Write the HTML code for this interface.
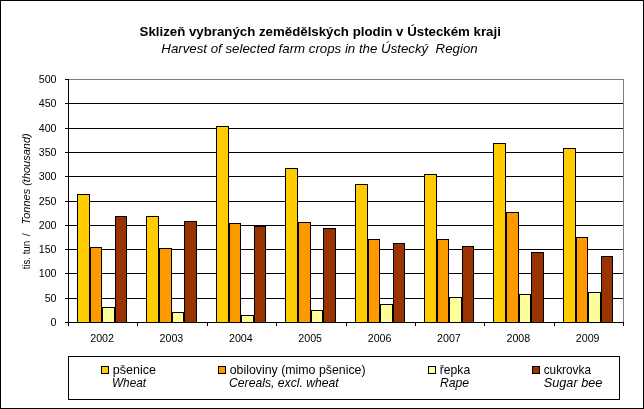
<!DOCTYPE html>
<html lang="cs"><head><meta charset="utf-8"><title>Sklizeň vybraných zemědělských plodin v Ústeckém kraji</title>
<style>html,body{margin:0;padding:0;background:#fff;}svg{display:block;}text{font-family:"Liberation Sans",sans-serif;fill:#000;}</style>
</head><body>
<svg width="644" height="409" viewBox="0 0 644 409">
<rect x="0" y="0" width="644" height="409" fill="#fff"/>
<g shape-rendering="crispEdges">
<rect x="0.5" y="0.5" width="643" height="408" fill="none" stroke="#000" stroke-width="1"/>
<rect x="68.5" y="79.5" width="555" height="243" fill="#fff" stroke="#808080" stroke-width="1"/>
<line x1="68" y1="298.5" x2="623" y2="298.5" stroke="#000" stroke-width="1"/>
<line x1="68" y1="273.5" x2="623" y2="273.5" stroke="#000" stroke-width="1"/>
<line x1="68" y1="249.5" x2="623" y2="249.5" stroke="#000" stroke-width="1"/>
<line x1="68" y1="225.5" x2="623" y2="225.5" stroke="#000" stroke-width="1"/>
<line x1="68" y1="201.5" x2="623" y2="201.5" stroke="#000" stroke-width="1"/>
<line x1="68" y1="176.5" x2="623" y2="176.5" stroke="#000" stroke-width="1"/>
<line x1="68" y1="152.5" x2="623" y2="152.5" stroke="#000" stroke-width="1"/>
<line x1="68" y1="128.5" x2="623" y2="128.5" stroke="#000" stroke-width="1"/>
<line x1="68" y1="103.5" x2="623" y2="103.5" stroke="#000" stroke-width="1"/>
<rect x="77.5" y="194.5" width="12" height="128" fill="#FFCC00" stroke="#000" stroke-width="1"/>
<rect x="90.5" y="247.5" width="11" height="75" fill="#FF9900" stroke="#000" stroke-width="1"/>
<rect x="102.5" y="307.5" width="12" height="15" fill="#FFFF99" stroke="#000" stroke-width="1"/>
<rect x="115.5" y="216.5" width="11" height="106" fill="#993300" stroke="#000" stroke-width="1"/>
<rect x="146.5" y="216.5" width="12" height="106" fill="#FFCC00" stroke="#000" stroke-width="1"/>
<rect x="159.5" y="248.5" width="12" height="74" fill="#FF9900" stroke="#000" stroke-width="1"/>
<rect x="172.5" y="312.5" width="11" height="10" fill="#FFFF99" stroke="#000" stroke-width="1"/>
<rect x="184.5" y="221.5" width="12" height="101" fill="#993300" stroke="#000" stroke-width="1"/>
<rect x="216.5" y="126.5" width="12" height="196" fill="#FFCC00" stroke="#000" stroke-width="1"/>
<rect x="229.5" y="223.5" width="11" height="99" fill="#FF9900" stroke="#000" stroke-width="1"/>
<rect x="241.5" y="315.5" width="12" height="7" fill="#FFFF99" stroke="#000" stroke-width="1"/>
<rect x="254.5" y="226.5" width="11" height="96" fill="#993300" stroke="#000" stroke-width="1"/>
<rect x="285.5" y="168.5" width="12" height="154" fill="#FFCC00" stroke="#000" stroke-width="1"/>
<rect x="298.5" y="222.5" width="12" height="100" fill="#FF9900" stroke="#000" stroke-width="1"/>
<rect x="311.5" y="310.5" width="11" height="12" fill="#FFFF99" stroke="#000" stroke-width="1"/>
<rect x="323.5" y="228.5" width="12" height="94" fill="#993300" stroke="#000" stroke-width="1"/>
<rect x="355.5" y="184.5" width="12" height="138" fill="#FFCC00" stroke="#000" stroke-width="1"/>
<rect x="368.5" y="239.5" width="11" height="83" fill="#FF9900" stroke="#000" stroke-width="1"/>
<rect x="380.5" y="304.5" width="12" height="18" fill="#FFFF99" stroke="#000" stroke-width="1"/>
<rect x="393.5" y="243.5" width="11" height="79" fill="#993300" stroke="#000" stroke-width="1"/>
<rect x="424.5" y="174.5" width="12" height="148" fill="#FFCC00" stroke="#000" stroke-width="1"/>
<rect x="437.5" y="239.5" width="11" height="83" fill="#FF9900" stroke="#000" stroke-width="1"/>
<rect x="449.5" y="297.5" width="12" height="25" fill="#FFFF99" stroke="#000" stroke-width="1"/>
<rect x="462.5" y="246.5" width="11" height="76" fill="#993300" stroke="#000" stroke-width="1"/>
<rect x="493.5" y="143.5" width="12" height="179" fill="#FFCC00" stroke="#000" stroke-width="1"/>
<rect x="506.5" y="212.5" width="12" height="110" fill="#FF9900" stroke="#000" stroke-width="1"/>
<rect x="519.5" y="294.5" width="11" height="28" fill="#FFFF99" stroke="#000" stroke-width="1"/>
<rect x="531.5" y="252.5" width="12" height="70" fill="#993300" stroke="#000" stroke-width="1"/>
<rect x="563.5" y="148.5" width="12" height="174" fill="#FFCC00" stroke="#000" stroke-width="1"/>
<rect x="576.5" y="237.5" width="11" height="85" fill="#FF9900" stroke="#000" stroke-width="1"/>
<rect x="588.5" y="292.5" width="12" height="30" fill="#FFFF99" stroke="#000" stroke-width="1"/>
<rect x="601.5" y="256.5" width="11" height="66" fill="#993300" stroke="#000" stroke-width="1"/>
<line x1="68.5" y1="79" x2="68.5" y2="326" stroke="#000" stroke-width="1"/>
<line x1="65" y1="322.5" x2="624" y2="322.5" stroke="#000" stroke-width="1"/>
<line x1="65" y1="322.5" x2="69" y2="322.5" stroke="#000" stroke-width="1"/>
<line x1="65" y1="298.5" x2="69" y2="298.5" stroke="#000" stroke-width="1"/>
<line x1="65" y1="273.5" x2="69" y2="273.5" stroke="#000" stroke-width="1"/>
<line x1="65" y1="249.5" x2="69" y2="249.5" stroke="#000" stroke-width="1"/>
<line x1="65" y1="225.5" x2="69" y2="225.5" stroke="#000" stroke-width="1"/>
<line x1="65" y1="201.5" x2="69" y2="201.5" stroke="#000" stroke-width="1"/>
<line x1="65" y1="176.5" x2="69" y2="176.5" stroke="#000" stroke-width="1"/>
<line x1="65" y1="152.5" x2="69" y2="152.5" stroke="#000" stroke-width="1"/>
<line x1="65" y1="128.5" x2="69" y2="128.5" stroke="#000" stroke-width="1"/>
<line x1="65" y1="103.5" x2="69" y2="103.5" stroke="#000" stroke-width="1"/>
<line x1="65" y1="79.5" x2="69" y2="79.5" stroke="#000" stroke-width="1"/>
<line x1="68.5" y1="322" x2="68.5" y2="326" stroke="#000" stroke-width="1"/>
<line x1="137.5" y1="322" x2="137.5" y2="326" stroke="#000" stroke-width="1"/>
<line x1="207.5" y1="322" x2="207.5" y2="326" stroke="#000" stroke-width="1"/>
<line x1="276.5" y1="322" x2="276.5" y2="326" stroke="#000" stroke-width="1"/>
<line x1="346.5" y1="322" x2="346.5" y2="326" stroke="#000" stroke-width="1"/>
<line x1="415.5" y1="322" x2="415.5" y2="326" stroke="#000" stroke-width="1"/>
<line x1="484.5" y1="322" x2="484.5" y2="326" stroke="#000" stroke-width="1"/>
<line x1="554.5" y1="322" x2="554.5" y2="326" stroke="#000" stroke-width="1"/>
<line x1="623.5" y1="322" x2="623.5" y2="326" stroke="#000" stroke-width="1"/>
<rect x="68.5" y="356.5" width="551" height="43" fill="#fff" stroke="#000" stroke-width="1"/>
<rect x="101.5" y="366.5" width="7" height="7" fill="#FFCC00" stroke="#000" stroke-width="1"/>
<rect x="218.5" y="366.5" width="7" height="7" fill="#FF9900" stroke="#000" stroke-width="1"/>
<rect x="428.5" y="366.5" width="7" height="7" fill="#FFFF99" stroke="#000" stroke-width="1"/>
<rect x="532.5" y="366.5" width="7" height="7" fill="#993300" stroke="#000" stroke-width="1"/>
</g>
<text x="320.2" y="35.5" text-anchor="middle" font-size="13.27" font-weight="bold">Sklizeň vybraných zemědělských plodin v Ústeckém kraji</text>
<text x="319.5" y="52.6" text-anchor="middle" font-size="13.27" font-style="italic" xml:space="preserve">Harvest of selected farm crops in the Ústecký  Region</text>
<text x="56.5" y="325.8" text-anchor="end" font-size="10.67">0</text>
<text x="56.5" y="301.8" text-anchor="end" font-size="10.67">50</text>
<text x="56.5" y="276.8" text-anchor="end" font-size="10.67">100</text>
<text x="56.5" y="252.8" text-anchor="end" font-size="10.67">150</text>
<text x="56.5" y="228.8" text-anchor="end" font-size="10.67">200</text>
<text x="56.5" y="204.8" text-anchor="end" font-size="10.67">250</text>
<text x="56.5" y="179.8" text-anchor="end" font-size="10.67">300</text>
<text x="56.5" y="155.8" text-anchor="end" font-size="10.67">350</text>
<text x="56.5" y="131.8" text-anchor="end" font-size="10.67">400</text>
<text x="56.5" y="106.8" text-anchor="end" font-size="10.67">450</text>
<text x="56.5" y="82.8" text-anchor="end" font-size="10.67">500</text>
<text x="102.09" y="341.9" text-anchor="middle" font-size="10.67">2002</text>
<text x="171.46" y="341.9" text-anchor="middle" font-size="10.67">2003</text>
<text x="240.84" y="341.9" text-anchor="middle" font-size="10.67">2004</text>
<text x="310.21" y="341.9" text-anchor="middle" font-size="10.67">2005</text>
<text x="379.59" y="341.9" text-anchor="middle" font-size="10.67">2006</text>
<text x="448.96" y="341.9" text-anchor="middle" font-size="10.67">2007</text>
<text x="518.34" y="341.9" text-anchor="middle" font-size="10.67">2008</text>
<text x="587.71" y="341.9" text-anchor="middle" font-size="10.67">2009</text>
<text transform="translate(29.8,269.3) rotate(-90)" font-size="11.15" textLength="28.4" lengthAdjust="spacingAndGlyphs">tis. tun</text>
<text transform="translate(29.8,236.2) rotate(-90)" font-size="11.15">/</text>
<text transform="translate(29.8,224.5) rotate(-90)" font-size="11.15" font-style="italic" textLength="91.2" lengthAdjust="spacingAndGlyphs">Tonnes (thousand)</text>
<text x="112.7" y="373.8" font-size="12.2" textLength="43.3" lengthAdjust="spacingAndGlyphs">pšenice</text>
<text x="112.0" y="386.6" font-size="12.2" font-style="italic" textLength="34.05" lengthAdjust="spacingAndGlyphs">Wheat</text>
<text x="229.7" y="373.8" font-size="12.2" textLength="135.9" lengthAdjust="spacingAndGlyphs">obiloviny (mimo pšenice)</text>
<text x="229.0" y="386.6" font-size="12.2" font-style="italic">Cereals, excl. wheat</text>
<text x="439.7" y="373.8" font-size="12.2">řepka</text>
<text x="440.0" y="386.6" font-size="12.2" font-style="italic">Rape</text>
<text x="543.7" y="373.8" font-size="12.2" textLength="47.3" lengthAdjust="spacingAndGlyphs">cukrovka</text>
<text x="543.8" y="386.6" font-size="12.2" font-style="italic" textLength="58.5" lengthAdjust="spacingAndGlyphs">Sugar bee</text>
</svg>
</body></html>
